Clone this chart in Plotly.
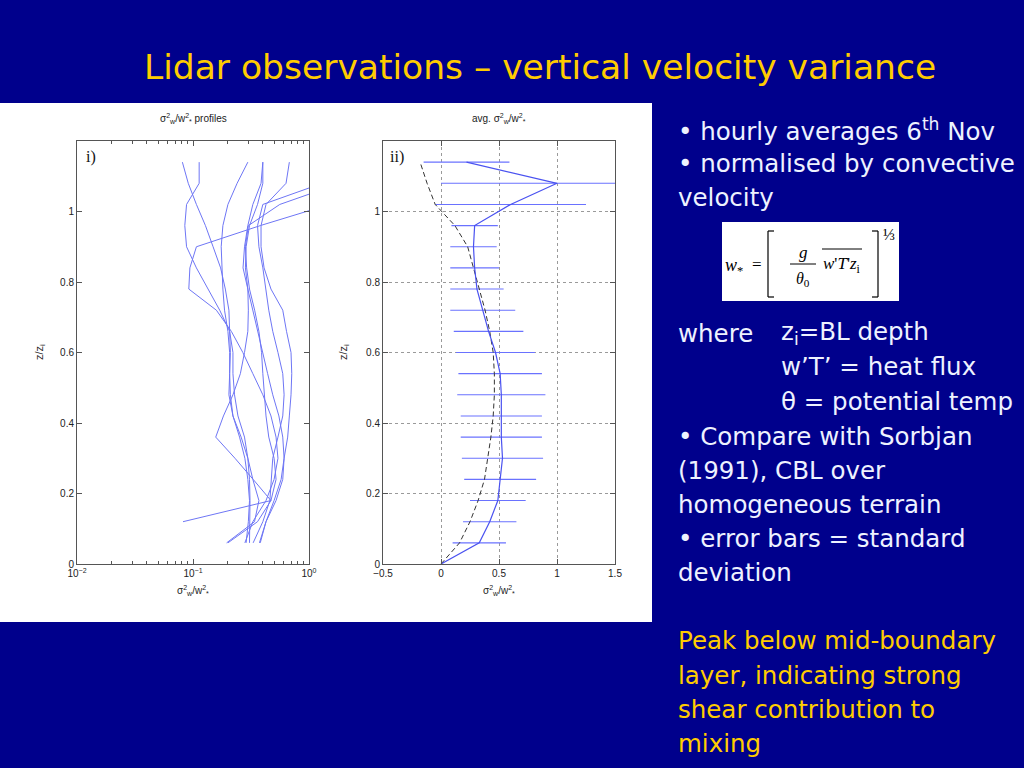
import plotly.graph_objects as go

W, H = 1024, 768
def px(x):
    return x / W
def py(y):
    return 1 - y / H

# ---------------- data ----------------
levels = [0.06, 0.12, 0.18, 0.24, 0.30, 0.36, 0.42, 0.48, 0.54, 0.60,
          0.66, 0.72, 0.78, 0.84, 0.90, 0.96, 1.02, 1.08, 1.14]

prof1 = [None, 0.082, 0.47, 0.33, 0.23, 0.157, 0.183, 0.221, 0.256, 0.278,
         0.297, 0.30, 0.297, 0.27, 0.278, 0.297, 0.328, 0.386, 0.40]
prof2 = [0.28, 0.328, 0.426, 0.50, 0.54, 0.52, 0.47, 0.40, 0.328, 0.269,
         0.214, 0.159, 0.092, 0.094, 0.107, 0.38, 1.5, 1.6, 1.6]
prof3 = [0.287, 0.30, 0.307, 0.297, 0.28, 0.252, 0.221, 0.21, 0.207, 0.21,
         0.207, 0.204, 0.19, 0.173, 0.149, 0.128, 0.107, 0.091, 0.081]
prof4 = [0.307, 0.31, 0.31, 0.307, 0.297, 0.278, 0.244, 0.228, 0.221, 0.221,
         0.207, 0.17, 0.135, 0.107, 0.088, 0.085, 0.088, 0.113, 0.113]
prof5 = [0.195, 0.339, 0.37, 0.328, 0.297, 0.26, 0.221, 0.204, 0.207, 0.207,
         0.2, 0.187, 0.181, 0.178, 0.175, 0.181, 0.2, 0.24, 0.297]
prof6 = [0.374, 0.426, 0.52, 0.594, 0.61, 0.594, 0.55, 0.487, 0.44, 0.40,
         0.36, 0.328, 0.297, 0.283, 0.287, 0.307, 0.36, 0.40, 0.40]
prof7 = [0.38, 0.426, 0.50, 0.575, 0.61, 0.655, 0.677, 0.70, 0.71, 0.70,
         0.64, 0.594, 0.47, 0.41, 0.386, 0.386, 0.426, 0.634, 0.677]
prof8 = [0.33, 0.40, 0.46, 0.47, 0.487, 0.54, 0.594, 0.61, 0.594, 0.54,
         0.487, 0.45, 0.426, 0.40, 0.37, 0.36, 0.40, 1.3, 1.3]
prof9 = [0.20, 0.36, 0.47, 0.52, 0.50, 0.45, 0.426, 0.41, 0.40, 0.39,
         0.37, 0.34, 0.307, 0.29, 0.283, 0.30, 0.56, 1.85, 1.9]
profiles = [prof1, prof2, prof3, prof4, prof5, prof6, prof7, prof8, prof9]

# averaged profile (panel ii), including surface point
avg_levels = [0.0] + levels
avg_mean = [0.0, 0.33, 0.42, 0.49, 0.51, 0.53, 0.52, 0.52, 0.52, 0.51, 0.47,
            0.41, 0.36, 0.31, 0.29, 0.28, 0.29, 0.60, 1.00, 0.22]
avg_std = [0.0, 0.23, 0.23, 0.24, 0.31, 0.35, 0.35, 0.35, 0.38, 0.36, 0.34,
           0.30, 0.28, 0.23, 0.21, 0.20, 0.20, 0.65, 1.00, 0.37]
sorbjan = [0.0, 0.16, 0.25, 0.32, 0.375, 0.405, 0.43, 0.45, 0.46, 0.46, 0.45,
           0.42, 0.38, 0.33, 0.28, 0.23, 0.12, -0.05, -0.12, -0.18]

log_ticks = [0.01, 0.1, 1]
log_ticktext = ["10<sup>−2</sup>", "10<sup>−1</sup>", "10<sup>0</sup>"]
log_minor = [0.02, 0.03, 0.04, 0.05, 0.06, 0.07, 0.08, 0.09,
             0.2, 0.3, 0.4, 0.5, 0.6, 0.7, 0.8, 0.9]
lin_ticks = [-0.5, 0, 0.5, 1, 1.5]
lin_ticktext = ["−0.5", "0", "0.5", "1", "1.5"]
z_ticks = [0, 0.2, 0.4, 0.6, 0.8, 1]
z_ticktext = ["0", "0.2", "0.4", "0.6", "0.8", "1"]

# ---------------- figure ----------------
BG = "#00008C"
WHITE_TXT = "#EEF2FF"
YELLOW = "#FFCC00"
LINE_BLUE = "#6E76F5"
AX = "#555555"
TICKFONT = dict(family="Liberation Sans, Arial", size=10, color="#222222")

fig = go.Figure()

for p in profiles:
    fig.add_trace(go.Scatter(x=p, y=levels, mode="lines", xaxis="x", yaxis="y",
                             line=dict(color=LINE_BLUE, width=1),
                             connectgaps=False, hoverinfo="skip", showlegend=False))

fig.add_trace(go.Scatter(x=avg_mean, y=avg_levels, mode="markers", xaxis="x2", yaxis="y2",
                         marker=dict(size=1, color="rgba(0,0,0,0)"),
                         error_x=dict(type="data", array=avg_std, symmetric=True,
                                      width=0, thickness=1.1, color="#6A72FF"),
                         hoverinfo="skip", showlegend=False))
fig.add_trace(go.Scatter(x=sorbjan, y=avg_levels, mode="lines", xaxis="x2", yaxis="y2",
                         line=dict(color="#333333", width=1, dash="5px,3px"),
                         hoverinfo="skip", showlegend=False))
fig.add_trace(go.Scatter(x=avg_mean, y=avg_levels, mode="lines", xaxis="x2", yaxis="y2",
                         line=dict(color="#4A52F0", width=1.2),
                         hoverinfo="skip", showlegend=False))

dom_y = [py(564), py(141)]
common_axis = dict(showline=True, linecolor=AX, linewidth=1, mirror="ticks",
                   ticks="inside", ticklen=5, tickcolor=AX, tickfont=TICKFONT,
                   zeroline=False, automargin=False)

fig.update_layout(
    width=W, height=H, autosize=False,
    margin=dict(l=0, r=0, t=0, b=0, pad=0),
    paper_bgcolor=BG, plot_bgcolor="white",
    showlegend=False,
    xaxis=dict(domain=[px(77), px(309)], anchor="y", type="log", range=[-2, 0],
               tickmode="array", tickvals=log_ticks, ticktext=log_ticktext,
               showgrid=False,
               minor=dict(tickmode="array", tickvals=log_minor, ticks="inside",
                          ticklen=3, tickcolor=AX, showgrid=False),
               **common_axis),
    yaxis=dict(domain=dom_y, anchor="x", range=[0, 1.2],
               tickmode="array", tickvals=z_ticks, ticktext=z_ticktext,
               showgrid=False, **common_axis),
    xaxis2=dict(domain=[px(383), px(615)], anchor="y2", range=[-0.5, 1.5],
                tickmode="array", tickvals=lin_ticks, ticktext=lin_ticktext,
                showgrid=True, gridcolor="#9A9A9A", griddash="dot", gridwidth=1,
                **common_axis),
    yaxis2=dict(domain=dom_y, anchor="x2", range=[0, 1.2],
                tickmode="array", tickvals=z_ticks, ticktext=z_ticktext,
                showgrid=True, gridcolor="#9A9A9A", griddash="dot", gridwidth=1,
                **common_axis),
)

shapes = []
# white figure panel
shapes.append(dict(type="rect", xref="paper", yref="paper", layer="below",
                   x0=px(0), x1=px(652), y0=py(622), y1=py(103),
                   fillcolor="white", line=dict(width=0)))
# equation box
shapes.append(dict(type="rect", xref="paper", yref="paper", layer="above",
                   x0=px(722), x1=px(899), y0=py(301), y1=py(222),
                   fillcolor="white", line=dict(width=0)))
def seg(x0, y0, x1, y1, w=1.2):
    return dict(type="line", xref="paper", yref="paper", layer="above",
                x0=px(x0), y0=py(y0), x1=px(x1), y1=py(y1),
                line=dict(color="black", width=w))
# brackets
shapes += [seg(774, 231, 768, 231), seg(768, 231, 768, 297), seg(768, 297, 774, 297)]
shapes += [seg(872, 231, 878, 231), seg(878, 231, 878, 297), seg(878, 297, 872, 297)]
# fraction bar and overline
shapes += [seg(790, 264, 816, 264, 1), seg(822, 249, 862, 249, 1)]
fig.update_layout(shapes=shapes)

ann = []
def text(x, y, s, size, color, anchor="left", family="DejaVu Sans", angle=0):
    ann.append(dict(x=px(x), y=py(y), xref="paper", yref="paper", text=s,
                    showarrow=False, xanchor=anchor, yanchor="middle",
                    textangle=angle,
                    font=dict(family=family, size=size, color=color)))

# slide title
text(540, 67, "Lidar observations – vertical velocity variance", 34.5, YELLOW, "center")

# panel texts
sig = "σ<sup>2</sup><sub>w</sub>/w<sup>2</sup><sub>*</sub>"
text(193, 119, sig + " profiles", 10, "#222222", "center", "Liberation Sans, Arial")
text(499, 119, "avg. " + sig, 10, "#222222", "center", "Liberation Sans, Arial")
text(193, 590, sig, 10, "#222222", "center", "Liberation Sans, Arial")
text(499, 590, sig, 10, "#222222", "center", "Liberation Sans, Arial")
text(40, 352, "z/z<sub>i</sub>", 11, "#222222", "center", "Liberation Sans, Arial", -90)
text(344, 352, "z/z<sub>i</sub>", 11, "#222222", "center", "Liberation Sans, Arial", -90)
text(84, 157, "i)", 16, "#111111", "left", "Liberation Serif, DejaVu Serif")
text(388, 157, "ii)", 16, "#111111", "left", "Liberation Serif, DejaVu Serif")

# equation
EQF = "Liberation Serif, DejaVu Serif"
text(723, 266, "<i>w</i><sub>*</sub>", 18, "black", "left", EQF)
text(757, 264, "=", 17, "black", "center", EQF)
text(803, 252, "<i>g</i>", 17, "black", "center", EQF)
text(803, 280, "<i>θ</i><sub>0</sub>", 16, "black", "center", EQF)
text(821, 265, "<i>w</i>'<i>T</i>'<i>z</i><sub>i</sub>", 17, "black", "left", EQF)
text(881, 234, "⅓", 16, "black", "left", EQF)

# right-hand text
body = [
    (676, 130, "• hourly averages 6<sup>th</sup> Nov", WHITE_TXT),
    (676, 163, "• normalised by convective", WHITE_TXT),
    (676, 197, "velocity", WHITE_TXT),
    (676, 333, "where", WHITE_TXT),
    (779, 333, "z<sub>i</sub>=BL depth", WHITE_TXT),
    (779, 367, "w’T’ = heat flux", WHITE_TXT),
    (779, 401, "θ = potential temp", WHITE_TXT),
    (676, 436, "• Compare with Sorbjan", WHITE_TXT),
    (676, 470, "(1991), CBL over", WHITE_TXT),
    (676, 504, "homogeneous terrain", WHITE_TXT),
    (676, 538, "• error bars = standard", WHITE_TXT),
    (676, 572, "deviation", WHITE_TXT),
    (676, 640, "Peak below mid-boundary", YELLOW),
    (676, 675, "layer, indicating strong", YELLOW),
    (676, 709, "shear contribution to", YELLOW),
    (676, 743, "mixing", YELLOW),
]
for x, y, s, c in body:
    text(x, y, s, 24.5, c)

fig.update_layout(annotations=ann)
fig.write_html("out.html", config={"responsive": False, "displayModeBar": False},
               post_script="document.body.style.margin='0';"
                           "document.body.style.padding='0';"
                           "document.body.style.overflow='hidden';")
